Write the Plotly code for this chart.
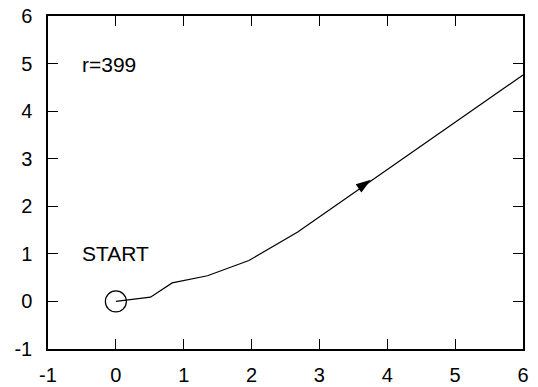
import plotly.graph_objects as go

# Trajectory data
path_x = [0.0, 0.51, 0.83, 1.35, 1.96, 2.68, 6.0]
path_y = [0.0, 0.09, 0.39, 0.54, 0.86, 1.46, 4.76]

start_x = [0.0]
start_y = [0.0]

arrow_x = [3.76]
arrow_y = [2.56]

label_text = ["r=399", "START"]
label_x = [-0.535, -0.535]
label_y = [4.98, 1.0]

x_ticks = [-1, 0, 1, 2, 3, 4, 5, 6]
y_ticks = [-1, 0, 1, 2, 3, 4, 5, 6]

font_family = "Liberation Sans, Arial, Helvetica, sans-serif"

fig = go.Figure()
fig.add_trace(go.Scatter(x=path_x, y=path_y, mode="lines",
                         line=dict(color="black", width=1.2),
                         showlegend=False, cliponaxis=True))
fig.add_trace(go.Scatter(x=start_x, y=start_y, mode="markers",
                         marker=dict(symbol="circle-open", size=21,
                                     color="black", line=dict(width=1.2, color="black")),
                         showlegend=False))
fig.add_trace(go.Scatter(x=arrow_x, y=arrow_y, mode="markers",
                         marker=dict(symbol="arrow", size=16, angle=55,
                                     color="black", line=dict(width=0)),
                         showlegend=False))

for t, xx, yy in zip(label_text, label_x, label_y):
    fig.add_annotation(x=xx, y=yy, text=t, showarrow=False,
                       xanchor="left", yanchor="middle",
                       font=dict(size=21, color="black", family=font_family))

axis_common = dict(showgrid=False, zeroline=False, showline=True, automargin=False,
                   linecolor="black", linewidth=1.5, mirror="ticks",
                   ticks="inside", ticklen=10, tickwidth=1.2, tickcolor="black",
                   tickfont=dict(size=20, color="black", family=font_family))

fig.update_xaxes(range=[-1, 6], tickvals=x_ticks, ticktext=[str(v) for v in x_ticks],
                 ticklabelstandoff=7, **axis_common)
fig.update_yaxes(range=[-1, 6], tickvals=y_ticks, ticktext=[str(v) for v in y_ticks],
                 ticklabelstandoff=10, **axis_common)

fig.update_layout(width=538, height=387,
                  margin=dict(l=48, r=15, t=16, b=38),
                  plot_bgcolor="white", paper_bgcolor="white")

fig.write_html("out.html")
